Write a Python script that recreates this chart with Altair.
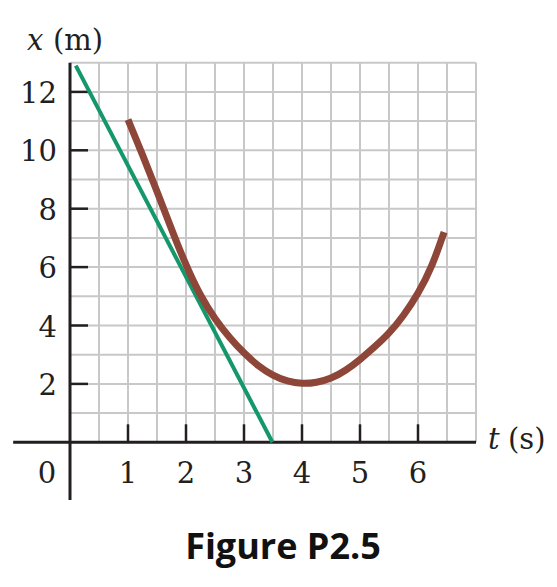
import altair as alt
import pandas as pd

# ---------------- data ----------------
curve_t = [1.0, 1.25, 1.5, 1.75, 2.0, 2.25, 2.5, 2.75, 3.0, 3.25, 3.5, 3.75,
           4.0, 4.25, 4.5, 4.75, 5.0, 5.25, 5.5, 5.75, 6.0, 6.25, 6.45]
curve_x = [11.05, 9.85, 8.6, 7.3, 6.05, 5.0, 4.22, 3.58, 3.05, 2.6, 2.28, 2.08,
           2.0, 2.04, 2.18, 2.45, 2.83, 3.26, 3.72, 4.33, 5.07, 6.05, 7.2]
tangent_t = [0.1, 3.49]
tangent_x = [12.9, 0.0]

x_tick_values = [1, 2, 3, 4, 5, 6]
y_tick_values = [2, 4, 6, 8, 10, 12]
t_grid = [0.5, 1.0, 1.5, 2.0, 2.5, 3.0, 3.5, 4.0, 4.5, 5.0, 5.5, 6.0, 6.5, 7.0]
x_grid = [1, 2, 3, 4, 5, 6, 7, 8, 9, 10, 11, 12, 13]
t_max, x_max = 7.0, 13.0
t_axis_left, x_axis_bottom = -0.98, -1.98

# ---------------- styling ----------------
AXIS = "#231f20"
GRID = "#c8c8c8"
BROWN = "#8e4638"
GREEN = "#14976a"
SERIF = "DejaVu Serif"
FS = 29

W, H = 541, 571
X0, SX = 62.0, 58.0
Y0, SY = 434.3, 29.2
xs = alt.Scale(domain=[-X0 / SX, (W - X0) / SX], nice=False, zero=False)
ys = alt.Scale(domain=[-(H - Y0) / SY, Y0 / SY], nice=False, zero=False)


def X(f):
    return alt.X(f, type="quantitative", scale=xs, axis=None)


def Y(f):
    return alt.Y(f, type="quantitative", scale=ys, axis=None)


vgrid_df = pd.DataFrame({"t": t_grid, "lo": 0.0, "hi": x_max})
hgrid_df = pd.DataFrame({"x": x_grid, "lo": 0.0, "hi": t_max})

vgrid = alt.Chart(vgrid_df).mark_rule(color=GRID, strokeWidth=2).encode(
    x=X("t"), y=Y("lo"), y2="hi")
hgrid = alt.Chart(hgrid_df).mark_rule(color=GRID, strokeWidth=2).encode(
    y=Y("x"), x=X("lo"), x2="hi")

xaxis_df = pd.DataFrame({"x": [0.0], "lo": [t_axis_left], "hi": [t_max]})
yaxis_df = pd.DataFrame({"t": [0.0], "lo": [x_axis_bottom], "hi": [x_max]})
xaxis = alt.Chart(xaxis_df).mark_rule(color=AXIS, strokeWidth=3).encode(
    y=Y("x"), x=X("lo"), x2="hi")
yaxis = alt.Chart(yaxis_df).mark_rule(color=AXIS, strokeWidth=3).encode(
    x=X("t"), y=Y("lo"), y2="hi")

xt_df = pd.DataFrame({"t": x_tick_values, "lo": 0.0, "hi": 18 / SY,
                      "label": [str(v) for v in x_tick_values]})
yt_df = pd.DataFrame({"x": y_tick_values, "lo": 0.0, "hi": 18 / SX,
                      "label": [str(v) for v in y_tick_values]})
xticks = alt.Chart(xt_df).mark_rule(color=AXIS, strokeWidth=2.5).encode(
    x=X("t"), y=Y("lo"), y2="hi")
yticks = alt.Chart(yt_df).mark_rule(color=AXIS, strokeWidth=2.5).encode(
    y=Y("x"), x=X("lo"), x2="hi")

xlabels = alt.Chart(xt_df).mark_text(
    font=SERIF, fontSize=FS, color=AXIS, align="center", baseline="alphabetic", dy=41
).encode(x=X("t"), y=Y("lo"), text="label:N")
ylabels = alt.Chart(yt_df).mark_text(
    font=SERIF, fontSize=FS, color=AXIS, align="right", baseline="alphabetic", dx=-13, dy=11
).encode(x=X("lo"), y=Y("x"), text="label:N")

zero_df = pd.DataFrame({"t": [0.0], "x": [0.0], "label": ["0"]})
zero = alt.Chart(zero_df).mark_text(
    font=SERIF, fontSize=FS, color=AXIS, align="center", baseline="alphabetic", dx=-23, dy=41
).encode(x=X("t"), y=Y("x"), text="label:N")

tangent_df = pd.DataFrame({"t": tangent_t, "x": tangent_x})
tangent = alt.Chart(tangent_df).mark_line(color=GREEN, strokeWidth=4).encode(
    x=X("t"), y=Y("x"))

curve_df = pd.DataFrame({"t": curve_t, "x": curve_x})
curve = alt.Chart(curve_df).mark_line(
    color=BROWN, strokeWidth=7, interpolate="basis", strokeCap="butt"
).encode(x=X("t"), y=Y("x"))

# axis titles
tt_df = pd.DataFrame({"t": [t_max], "x": [0.0]})
t_it = alt.Chart(tt_df).mark_text(
    font=SERIF, fontSize=FS, fontStyle="italic", color=AXIS, align="left",
    baseline="alphabetic", dx=12, dy=7).encode(x=X("t"), y=Y("x"), text=alt.value("t"))
t_un = alt.Chart(tt_df).mark_text(
    font=SERIF, fontSize=FS, color=AXIS, align="left",
    baseline="alphabetic", dx=32, dy=7).encode(x=X("t"), y=Y("x"), text=alt.value("(s)"))

xt2_df = pd.DataFrame({"t": [0.0], "x": [x_max]})
x_it = alt.Chart(xt2_df).mark_text(
    font=SERIF, fontSize=FS, fontStyle="italic", color=AXIS, align="left",
    baseline="alphabetic", dx=-43, dy=-13).encode(x=X("t"), y=Y("x"), text=alt.value("x"))
x_un = alt.Chart(xt2_df).mark_text(
    font=SERIF, fontSize=FS, color=AXIS, align="left",
    baseline="alphabetic", dx=-17, dy=-13).encode(x=X("t"), y=Y("x"), text=alt.value("(m)"))

caption = alt.Chart(zero_df).mark_text(
    font="Open Sans", fontSize=36, fontWeight="bold", color="#111111",
    align="center", baseline="alphabetic"
).encode(x=alt.value(275), y=alt.value(551), text=alt.value("Figure P2.5"))

chart = alt.layer(
    vgrid, hgrid, xticks, yticks, xaxis, yaxis, tangent, curve,
    xlabels, ylabels, zero, t_it, t_un, x_it, x_un, caption
).properties(
    width=W, height=H, padding=0, autosize=alt.AutoSizeParams(type="none"),
    background="white"
).configure_view(strokeWidth=0)

chart.save("out.html", embed_options={"renderer": "svg", "actions": False})
